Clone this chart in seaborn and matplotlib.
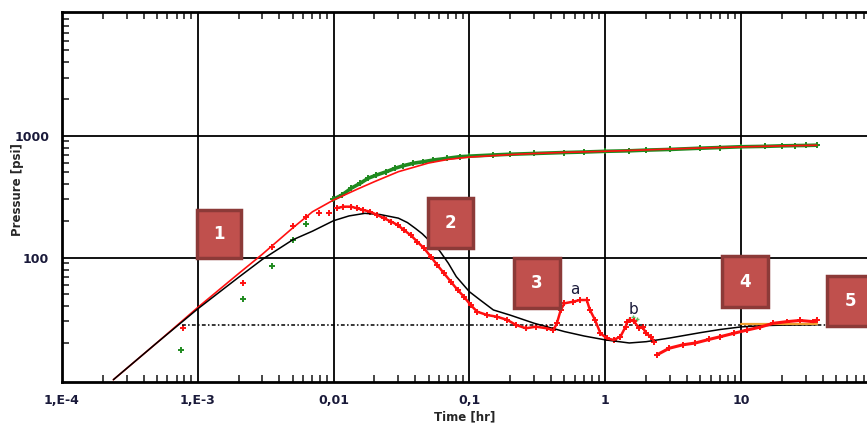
#log-log diagnostic plot: pressure and derivative vs time
import numpy as np
import matplotlib.pyplot as plt
import seaborn as sns
from matplotlib.patches import FancyBboxPatch
from matplotlib.ticker import LogLocator, NullFormatter, FixedLocator, FixedFormatter

# model pressure (red line)
model_t = [2.4e-4, 5e-4, 1e-3, 2e-3, 3e-3, 5e-3, 7e-3, 0.01, 0.015, 0.02, 0.03, 0.05, 0.07, 0.1,
           0.2, 0.3, 0.5, 1, 2, 3, 5, 10, 20, 36]
model_p = [10, 20, 39, 74, 107, 175, 238, 297, 365, 420, 507, 597, 640, 668,
           700, 715, 730, 745, 765, 778, 793, 810, 825, 835]

# model derivative (black line)
deriv_t = [2.4e-4, 5e-4, 1e-3, 2e-3, 3e-3, 5e-3, 7e-3, 0.01, 0.013, 0.017, 0.022, 0.03, 0.035, 0.04,
           0.045, 0.05, 0.06, 0.07, 0.08, 0.1, 0.12, 0.15, 0.2, 0.3, 0.5, 0.7, 1, 1.5, 2, 3, 5, 7,
           10, 15, 20, 36]
deriv_p = [10, 20, 38, 69, 97, 140, 165, 201, 220, 231, 226, 211, 194, 174,
           157, 140, 115, 90, 70, 52.6, 45, 37.3, 33.8, 29, 24.8, 22.8, 21.2, 20, 20.5, 22, 24.3, 25.8,
           27.1, 27.8, 28, 28.2]

# measured pressure (green)
pres_early_t = [7.6e-4, 2.16e-3, 3.55e-3, 5.07e-3, 6.3e-3]
pres_early_p = [17.5, 46, 86, 140, 189]
pres_t = [0.00997, 0.0115, 0.0135, 0.0157, 0.018, 0.0207, 0.0245, 0.0284, 0.0327, 0.0387, 0.0458,
          0.0542, 0.068, 0.085, 0.1, 0.15, 0.2, 0.3, 0.5, 0.7, 1, 1.5, 2, 3, 5, 7, 10, 15, 20, 25, 30, 36]
pres_p = [301, 326, 371, 407, 448, 476, 507, 541, 568, 595, 612,
          632, 652, 673, 680, 695, 705, 715, 728, 735, 745, 752, 762, 772, 790, 800, 812, 818, 826, 830, 832, 836]
green_b_t = [1.5, 1.6, 1.7]
green_b_p = [31.5, 32.5, 31.5]

# measured derivative (red +)
der_early_t = [7.8e-4, 2.16e-3, 3.55e-3, 5e-3, 6.3e-3, 7.8e-3, 9.2e-3]
der_early_p = [26.4, 61.7, 123, 182, 217, 232, 232]
der_a_t = [0.0106, 0.0118, 0.0135, 0.0149, 0.0166, 0.0186, 0.021, 0.0236, 0.0265, 0.0297, 0.0331, 0.037,
           0.0414, 0.0465, 0.052, 0.058, 0.065, 0.073, 0.082, 0.091, 0.102, 0.114, 0.135, 0.16, 0.19,
           0.22, 0.26, 0.31, 0.37, 0.415, 0.44, 0.47, 0.5, 0.58, 0.65, 0.73, 0.77, 0.84, 0.92, 1.03,
           1.15, 1.29, 1.41, 1.45, 1.53, 1.63, 1.77, 1.88, 1.99, 2.16, 2.29]
der_a_p = [255, 262, 262, 254, 246, 238, 224, 210, 198, 185, 168, 153,
           135, 119, 102, 87, 74.5, 63.6, 54.3, 48, 41, 36.1, 33.9, 32.8, 30.9,
           28.1, 26.4, 27.2, 26.4, 25.5, 29, 37.3, 42.3, 43.6, 45, 45, 37.3, 30.9, 24, 21.8,
           21.2, 22.5, 27.2, 29.9, 30.9, 30, 26.4, 27.2, 24, 22.5, 20.5]
der_b_t = [2.4, 2.95, 3.7, 4.6, 5.8, 7.0, 8.8, 11, 13.8, 17.2, 21.6, 27, 34, 36]
der_b_p = [16, 18.1, 19.3, 20, 21.4, 22.5, 24, 25.5, 27, 29, 29.9, 30.6, 29.9, 30.9]

# reference level lines
ref_t = [7.7e-4, 49]
ref_p = [28.1, 28.1]
orange_t = [10, 36]
orange_p = [28.7, 28.7]

xticks = [1e-4, 1e-3, 1e-2, 1e-1, 1, 10]
xlabels = ["1,E-4", "1,E-3", "0,01", "0,1", "1", "10"]
yticks = [100, 1000]
ylabels = ["100", "1000"]

sns.set_style("white")
plt.rcParams['font.family'] = ['DejaVu Sans']

W, H = 867, 423
fig = plt.figure(figsize=(W / 100, H / 100), dpi=100)
ax = fig.add_axes([61.7 / W, 1 - 381.7 / H, (W - 61.7) / W, (381.7 - 12.3) / H])
ax.set_xscale('log')
ax.set_yscale('log')

GREEN = '#1f8a1f'
RED = '#ff1010'
sns.lineplot(x=pres_t, y=pres_p, ax=ax, color=GREEN, lw=2.6, estimator=None, sort=False)
sns.scatterplot(x=pres_early_t + pres_t, y=pres_early_p + pres_p, ax=ax, color=GREEN, marker='+', s=18, linewidth=1.4)
sns.scatterplot(x=green_b_t, y=green_b_p, ax=ax, color='#5fbf5f', marker='+', s=12, linewidth=1)
sns.lineplot(x=model_t, y=model_p, ax=ax, color=RED, lw=1.2, estimator=None, sort=False)

sns.lineplot(x=ref_t, y=ref_p, ax=ax, color='black', lw=1.1, estimator=None).lines[-1].set_linestyle((0, (2.5, 1.5, 1, 1.5)))
sns.lineplot(x=deriv_t, y=deriv_p, ax=ax, color='black', lw=1.1, estimator=None, sort=False)
sns.lineplot(x=orange_t, y=orange_p, ax=ax, color='#f0a030', lw=1.6, estimator=None)

sns.lineplot(x=der_a_t, y=der_a_p, ax=ax, color=RED, lw=1.8, estimator=None, sort=False)
sns.lineplot(x=der_b_t, y=der_b_p, ax=ax, color=RED, lw=2.2, estimator=None, sort=False)
sns.scatterplot(x=der_early_t + der_a_t + der_b_t, y=der_early_p + der_a_p + der_b_p, ax=ax,
                color=RED, marker='+', s=18, linewidth=1.4)

ax.set_xlim(1e-4, 84.2)
ax.set_ylim(9.63, 10270)

ax.grid(True, which='major', color='black', lw=1.3)
ax.grid(False, which='minor')
for s in ['left', 'top', 'bottom']:
    ax.spines[s].set_linewidth(2)
    ax.spines[s].set_color('black')
ax.spines['right'].set_visible(False)

ax.xaxis.set_major_locator(FixedLocator(xticks))
ax.xaxis.set_major_formatter(FixedFormatter(xlabels))
ax.yaxis.set_major_locator(FixedLocator(yticks))
ax.yaxis.set_major_formatter(FixedFormatter(ylabels))
ax.xaxis.set_minor_locator(LogLocator(base=10, subs=range(2, 10), numticks=20))
ax.yaxis.set_minor_locator(LogLocator(base=10, subs=range(2, 10), numticks=20))
ax.xaxis.set_minor_formatter(NullFormatter())
ax.yaxis.set_minor_formatter(NullFormatter())
ax.tick_params(which='major', length=0, labelsize=9, labelcolor='#1a1a3a', pad=9)
ax.tick_params(which='minor', direction='in', length=5, width=1.2, top=True, bottom=True, left=True, right=False)
for lbl in ax.get_xticklabels() + ax.get_yticklabels():
    lbl.set_fontweight('bold')

ax.set_xlabel("Time [hr]", fontsize=8.5, fontweight='bold', labelpad=2)
ax.set_ylabel("Pressure [psi]", fontsize=8.5, fontweight='bold', va='center')
ax.yaxis.set_label_coords(-(61.7 - 18) / (W - 61.7), 0.52)

# numbered boxes (pixel boxes in image coords)
boxes = [("1", 197, 210, 241, 258), ("2", 428, 198, 473, 248), ("3", 514, 258, 560, 308),
         ("4", 722, 256, 768, 307), ("5", 827, 276, 873, 326)]
for lab, x0, y0, x1, y1 in boxes:
    r = FancyBboxPatch((x0 / W, 1 - y1 / H), (x1 - x0) / W, (y1 - y0) / H, boxstyle="square,pad=0",
                       transform=fig.transFigure, facecolor='#c0504d', edgecolor='#8c3a38', lw=2.5, zorder=10)
    fig.add_artist(r)
    fig.text((x0 + x1) / 2 / W, 1 - (y0 + y1) / 2 / H, lab, ha='center', va='center', color='white',
             fontsize=12, fontweight='bold', zorder=11)

fig.text(575 / W, 1 - 289 / H, "a", ha='center', va='center', fontsize=11, color='#1a1a3a')
fig.text(633 / W, 1 - 309 / H, "b", ha='center', va='center', fontsize=11, color='#1a1a3a')

fig.savefig("out.png", dpi=100)
